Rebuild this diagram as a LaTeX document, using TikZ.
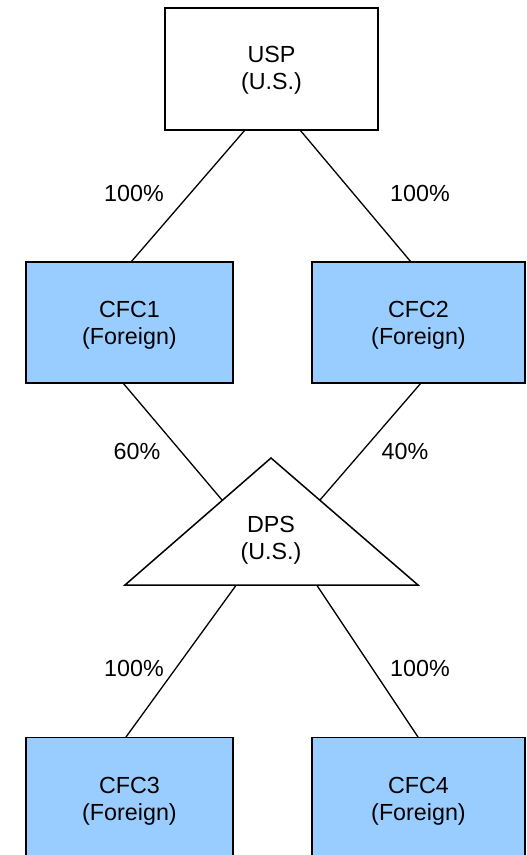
\documentclass[tikz,border=0pt]{standalone}
\usepackage{fontspec}
\setmainfont{Liberation Sans}
\definecolor{cfcblue}{RGB}{153,204,255}
\begin{document}
\begin{tikzpicture}[x=1pt,y=-1pt,
  txt/.style={font=\fontsize{23.3}{27}\selectfont,inner sep=0pt,align=center},
  box/.style={draw=black,line width=1.5pt,minimum width=#1,inner sep=0pt},
  box/.default={207pt},
  usbox/.style={box=213pt,fill=white,minimum height=122pt},
  cfcbox/.style={box=207pt,fill=cfcblue,minimum height=121pt},
  cfcboxw/.style={box=213pt,fill=cfcblue,minimum height=121pt},
  lbl/.style={font=\fontsize{23.3}{27}\selectfont,inner sep=0pt},
  conn/.style={line width=1.3pt}]
\useasboundingbox (0,0) rectangle (527,855);
\clip (0,0) rectangle (527,855);
% connectors first
\coordinate (u1) at (245,130);
\coordinate (u2) at (300,130);
\coordinate (c1t) at (131,262);
\coordinate (c2t) at (411,262);
\coordinate (c1b) at (123,383);
\coordinate (c2b) at (421,383);
\coordinate (tl) at (222,500);
\coordinate (tr) at (320,500);
\coordinate (b1) at (237,584);
\coordinate (b2) at (316,584);
\coordinate (c3t) at (126,737);
\coordinate (c4t) at (418,737);
\draw[conn] (u1) -- (c1t);
\draw[conn] (u2) -- (c2t);
\draw[conn] (c1b) -- (tl);
\draw[conn] (c2b) -- (tr);
\draw[conn] (b1) -- (c3t);
\draw[conn] (b2) -- (c4t);
% boxes
\node[usbox] (usp) at (271.5,69) {};
\node[txt] (uspt) at (271.5,70) {USP\\(U.S.)};
\node[cfcbox] (cfc1) at (129.5,322.5) {};
\node[txt] (cfc1t) at (129.5,325.5) {CFC1\\(Foreign)};
\node[cfcboxw] (cfc2) at (418.5,322.5) {};
\node[txt] (cfc2t) at (418.5,325.5) {CFC2\\(Foreign)};
\node[cfcbox] (cfc3) at (129.5,798) {};
\node[txt] (cfc3t) at (129.5,801) {CFC3\\(Foreign)};
\node[cfcboxw] (cfc4) at (418.5,798) {};
\node[txt] (cfc4t) at (418.5,801) {CFC4\\(Foreign)};
% triangle
\coordinate (apex) at (271,458);
\coordinate (bl) at (125,585);
\coordinate (br) at (418,585);
\draw[line width=1.5pt,fill=white,line join=miter] (apex) -- (br) -- (bl) -- cycle;
\node[txt] (dps) at (271,540) {DPS\\(U.S.)};
% labels
\node[lbl] (p1) at (134,193.5) {100\%};
\node[lbl] (p2) at (420,193.5) {100\%};
\node[lbl] (p3) at (137,451.5) {60\%};
\node[lbl] (p4) at (405,451.5) {40\%};
\node[lbl] (p5) at (134,668.5) {100\%};
\node[lbl] (p6) at (420,668.5) {100\%};
\end{tikzpicture}
\end{document}
